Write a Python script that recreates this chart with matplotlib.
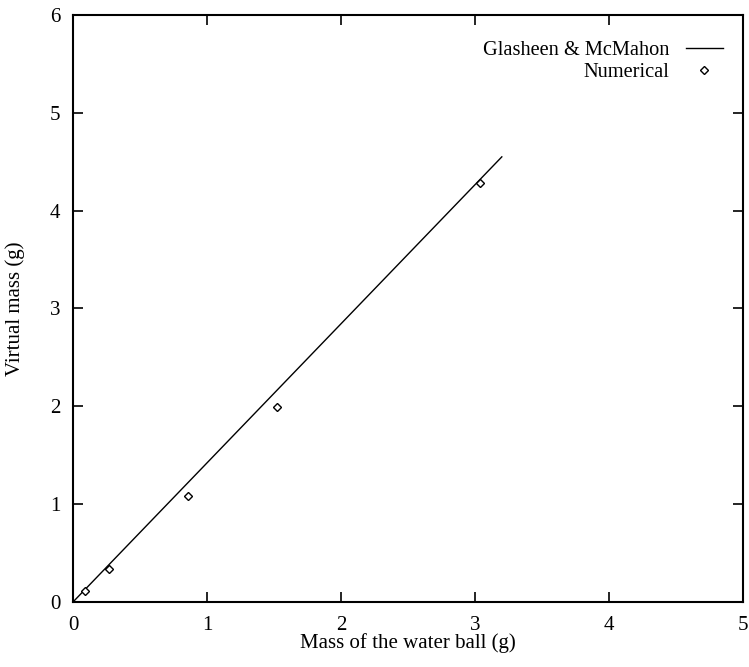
import matplotlib
matplotlib.use("Agg")
import matplotlib.pyplot as plt
import numpy as np

# Data
theory_x = [0.0, 3.2]
theory_y = [0.0, 4.55]
num_x = [0.09, 0.27, 0.86, 1.52, 3.04]
num_y = [0.11, 0.34, 1.08, 1.99, 4.28]
xticks = [0, 1, 2, 3, 4, 5]
yticks = [0, 1, 2, 3, 4, 5, 6]

plt.rcParams['font.family'] = ['Liberation Serif', 'DejaVu Serif']

fig = plt.figure(figsize=(7.49, 6.67), dpi=100)
ax = fig.add_axes([0.0975, 0.0975, 0.8945, 0.88])

ax.plot(theory_x, theory_y, color='black', lw=1.0, label='Glasheen & McMahon')
ax.plot(num_x, num_y, linestyle='none', marker='D', markersize=4.5,
        markerfacecolor='white', markeredgecolor='black', markeredgewidth=1.0,
        label='Numerical')

ax.set_xlim(0, 5)
ax.set_ylim(0, 6)
ax.set_xticks(xticks)
ax.set_yticks(yticks)
ax.tick_params(direction='in', length=7, width=1.2, top=True, right=True,
               labelsize=15)
ax.tick_params(axis='x', pad=10)
ax.tick_params(axis='y', pad=9)
for s in ax.spines.values():
    s.set_linewidth(1.5)

ax.set_xlabel('Mass of the water ball (g)', fontsize=15, labelpad=-1)
ax.set_ylabel('Virtual mass (g)', fontsize=15, labelpad=18)

leg = ax.legend(loc='upper right', bbox_to_anchor=(1.0, 0.991), frameon=False,
                markerfirst=False, fontsize=14.7, handlelength=1.8,
                borderaxespad=0.6, labelspacing=0.12, handletextpad=0.8)
for t in leg.get_texts():
    t.set_ha('right')
leg._legend_box.align = 'right'

fig.savefig('out.png', dpi=100)
